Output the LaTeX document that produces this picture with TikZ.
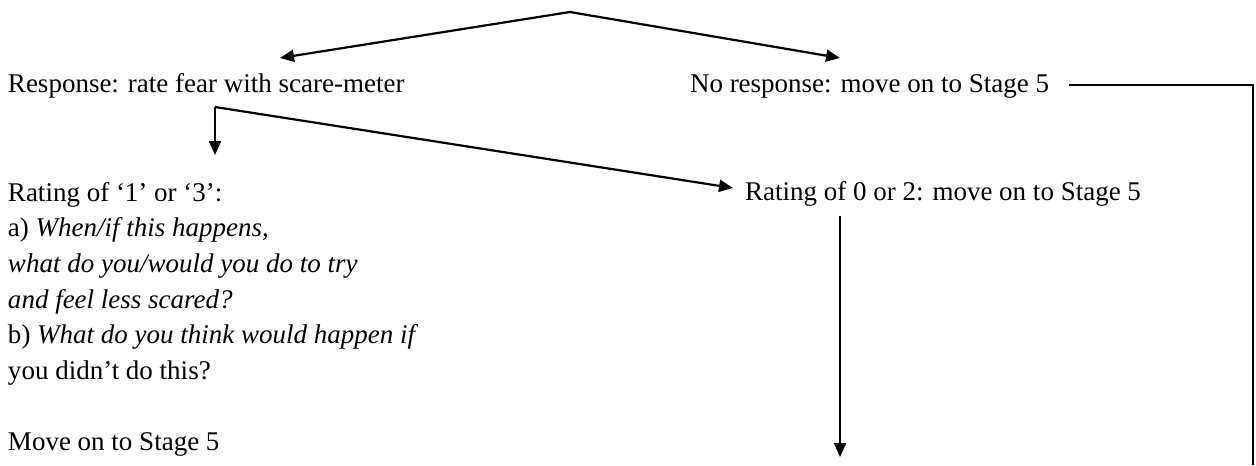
\documentclass[tikz,border=0pt]{standalone}
\usepackage{fontspec}
\setmainfont{Liberation Serif}
\usetikzlibrary{arrows.meta,calc}
\begin{document}
\begin{tikzpicture}[x=0.5pt,y=-0.5pt,
  txt/.style={inner sep=0pt, outer sep=0pt, anchor=base west, font=\fontsize{13.5}{17.85}\selectfont},
  conn/.style={line width=1.1pt, -{Triangle[length=7pt,width=6pt]}},
  link/.style={line width=1.1pt}]
\useasboundingbox (0,0) rectangle (1256,465);
\node[txt] (resp) at (8,92) {Response: rate fear with scare-meter};
\node[txt] (noresp) at (690,92) {No response: move on to Stage 5};
\node[txt] (r02) at (745,200) {Rating of 0 or 2: move on to Stage 5};
\node[txt, anchor=north west, align=left] (r13) at (8,182) {Rating of ‘1’ or ‘3’:\\
a) \textit{When/if this happens,}\\
\textit{what do you/would you do to try}\\
\textit{and feel less scared?}\\
b) \textit{What do you think would happen if}\\
you didn’t do this?\\
~\\
Move on to Stage 5};
\coordinate (top) at (570,12);
\coordinate (split) at ($(resp.base west)+(207,15)$);
\coordinate (rcorner) at (1253,85);
\coordinate (rend) at (1253,465);
\draw[conn] (top) -- ($(resp.base west)+(272,-34)$);
\draw[conn] (top) -- ($(noresp.base west)+(150,-34)$);
\draw[conn] (split) -- ($(r13.north west)+(207,-27)$);
\draw[conn] (split) -- ($(r02.base west)+(-12,-12)$);
\draw[link] ($(noresp.base east)+(20,-7)$) -- (rcorner) -- (rend);
\draw[conn] ($(r02.base west)+(95,16)$) -- ($(r02.base west)+(95,257)$);
\end{tikzpicture}
\end{document}
